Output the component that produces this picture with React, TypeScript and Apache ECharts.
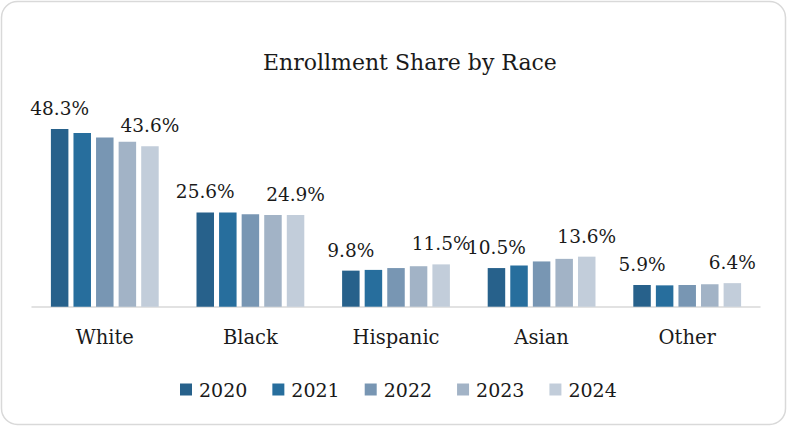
import React, { useEffect, useRef } from "react";
import * as echarts from "echarts";

const categories = ["White", "Black", "Hispanic", "Asian", "Other"];
const years = ["2020", "2021", "2022", "2023", "2024"];
const values2020 = [48.3, 25.6, 9.8, 10.5, 5.9];
const values2021 = [47.2, 25.6, 10.0, 11.2, 5.8];
const values2022 = [46.0, 25.1, 10.5, 12.3, 5.9];
const values2023 = [44.8, 24.9, 11.0, 13.0, 6.1];
const values2024 = [43.6, 24.9, 11.5, 13.6, 6.4];
const seriesValues = [values2020, values2021, values2022, values2023, values2024];
const colors = ["#27618b", "#276e9d", "#7896b3", "#a2b3c6", "#c2cdda"];
const labeledYears = ["2020", "2024"];

const FONT = "DejaVu Serif";

export default function App() {
  const ref = useRef<HTMLDivElement>(null);
  useEffect(() => {
    if (!ref.current) return;
    const chart = echarts.init(ref.current, null, { renderer: "svg" });
    chart.setOption({
      animation: false,
      backgroundColor: "#ffffff",
      title: {
        text: "Enrollment Share by Race",
        left: 258,
        top: 46,
        textStyle: { fontFamily: FONT, fontSize: 22, fontWeight: "normal", color: "#1a1a1a" },
      },
      graphic: [
        {
          type: "rect",
          shape: { x: 1.5, y: 1.5, width: 784, height: 423, r: 16 },
          style: { fill: "none", stroke: "#d9d9d9", lineWidth: 1.5 },
          silent: true,
        },
      ],
      legend: {
        bottom: 22,
        left: 175,
        itemWidth: 12,
        itemHeight: 12,
        itemGap: 25,
        icon: "rect",
        data: years,
        textStyle: { fontFamily: FONT, fontSize: 19, color: "#1a1a1a", padding: [0, 0, 0, 2] },
      },
      grid: { left: 32, right: 27, top: 122.7, bottom: 119.3 },
      xAxis: {
        type: "category",
        data: categories,
        axisLine: { lineStyle: { color: "#d9d9d9", width: 1.5 } },
        axisTick: { show: false },
        axisLabel: { fontFamily: FONT, fontSize: 19.5, color: "#1a1a1a", margin: 21 },
      },
      yAxis: {
        type: "value",
        min: 0,
        max: 50,
        show: false,
        splitLine: { show: false },
      },
      series: years.map((y, i) => ({
        name: y,
        type: "bar",
        data: seriesValues[i],
        barWidth: 17.5,
        barGap: "29%",
        itemStyle: { color: colors[i] },
        label: {
          show: labeledYears.includes(y),
          position: "top",
          distance: 11,
          formatter: "{c}%",
          fontFamily: FONT,
          fontSize: 18.5,
          color: "#1a1a1a",
        },
      })),
    });
    return () => chart.dispose();
  }, []);
  return (
    <div
      ref={ref}
      style={{ position: "fixed", left: 0, top: 0, width: 787, height: 426 }}
    />
  );
}
